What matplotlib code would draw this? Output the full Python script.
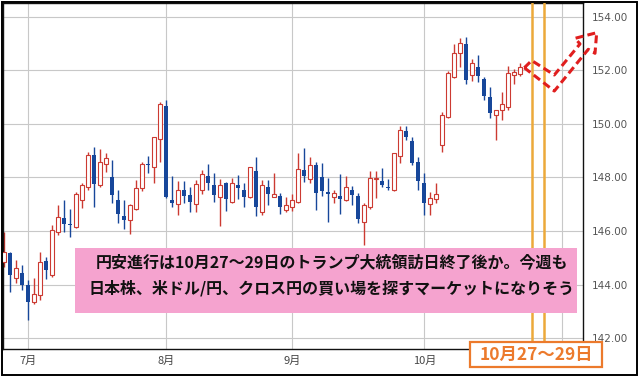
"""
usdjpy_daily.py
===============
USD/JPY daily candles (late June - Oct 2025) with the Trump visit window
(Oct 27-29) and a dashed forecast arrow.

Output: out.png (640x377)
"""

import matplotlib
matplotlib.use("Agg")
import matplotlib.pyplot as plt
from matplotlib.patches import Rectangle
import numpy as np
import pandas as pd

plt.rcParams["font.family"] = ["Noto Sans CJK JP", "DejaVu Sans"]

# ---- data ------------------------------------------------------------------
START = "2025-06-25"
AXIS_END = "2025-11-14"

OPEN = [
    144.85, 145.16, 144.23, 144.44,
    # Jul
    143.98, 143.35, 143.60, 144.89, 144.35, 145.98, 146.50, 146.26, 146.16,
    147.16, 147.66, 148.84, 147.72, 148.50, 148.00, 147.15, 146.55, 146.42,
    146.83, 147.62, 148.50, 148.40, 149.42,
    # Aug
    150.67, 147.15, 147.02, 147.52, 147.35, 147.02, 147.55, 148.05, 147.72,
    147.28, 147.78, 147.10, 147.72, 147.53, 147.26, 148.24, 146.72, 147.63,
    147.28, 147.31, 146.79,
    # Sep
    146.91, 147.10, 148.28, 147.93, 148.47, 148.03, 147.47, 147.28, 147.30,
    147.16, 147.55, 147.30, 146.35, 146.88, 147.93, 147.88, 147.65, 147.55,
    148.80, 149.73, 149.37, 148.59,
    # Oct
    147.78, 147.00, 147.18, 149.21, 150.25, 151.77, 152.64, 152.99, 151.83,
    152.11, 151.67, 151.02, 150.33, 150.52, 150.62, 151.83, 151.86,
]
HIGH = [
    145.97, 145.23, 144.91, 144.73,
    144.17, 144.23, 145.20, 145.04, 146.22, 146.97, 147.16, 146.84, 147.47,
    147.78, 148.97, 149.15, 149.05, 148.90, 148.65, 147.55, 147.17, 147.02,
    147.92, 148.58, 148.80, 149.52, 150.83,
    150.90, 148.05, 147.87, 147.87, 147.65, 147.92, 148.27, 148.50, 148.18,
    147.93, 147.84, 147.97, 148.10, 147.78, 148.40, 148.78, 147.91, 147.91,
    148.18, 147.41, 147.28,
    147.38, 148.90, 149.09, 148.78, 148.56, 148.55, 147.97, 147.55, 148.13,
    148.05, 147.68, 147.43, 147.03, 148.25, 148.25, 148.34, 147.93, 148.93,
    149.92, 149.92, 149.50, 148.77,
    148.15, 147.47, 147.78, 150.46, 151.99, 152.99, 153.20, 153.24, 152.41,
    152.58, 151.77, 151.39, 150.54, 151.20, 152.16, 152.04, 152.26,
]
LOW = [
    144.67, 143.73, 144.04, 143.79,
    142.67, 143.29, 143.42, 144.19, 144.29, 145.85, 145.98, 145.79, 146.13,
    146.85, 147.53, 146.91, 147.63, 148.20, 147.05, 146.30, 146.08, 145.87,
    146.77, 147.50, 148.15, 147.80, 148.58,
    147.22, 146.90, 146.58, 147.05, 146.71, 146.71, 147.37, 147.55, 147.10,
    146.19, 146.76, 147.03, 147.18, 146.88, 147.22, 146.56, 146.60, 146.97,
    147.26, 146.64, 146.72,
    146.76, 147.03, 147.84, 147.81, 146.79, 147.30, 146.35, 147.06, 146.63,
    147.13, 146.98, 146.28, 145.47, 146.81, 147.22, 147.63, 147.53, 147.50,
    148.55, 149.40, 148.46, 147.53,
    146.60, 146.60, 147.06, 148.96, 150.21, 151.70, 152.11, 151.49, 151.62,
    151.58, 150.89, 150.21, 149.40, 150.15, 150.52, 151.49, 151.79,
]
CLOSE = [
    145.23, 144.35, 144.63, 143.98,
    143.35, 143.64, 144.85, 144.54, 146.04, 146.51, 146.25, 146.22, 147.38,
    147.72, 148.84, 147.76, 148.59, 148.71, 147.33, 146.62, 146.42, 146.96,
    147.62, 148.50, 148.46, 149.50, 150.75,
    147.27, 147.05, 147.52, 147.30, 147.08, 147.75, 148.12, 147.80, 147.35,
    147.72, 147.18, 147.78, 147.62, 147.28, 148.38, 146.91, 147.72, 147.38,
    147.38, 146.91, 146.97,
    147.16, 148.31, 148.06, 148.47, 147.43, 147.50, 147.38, 147.43, 147.18,
    147.63, 147.34, 146.43, 146.97, 147.97, 147.97, 147.72, 147.60, 148.90,
    149.77, 149.50, 148.55, 147.88,
    147.03, 147.22, 147.40, 150.33, 151.89, 152.66, 153.04, 151.64, 152.26,
    151.79, 151.04, 150.40, 150.52, 150.74, 151.89, 151.95, 152.14,
]

MONTH_LABELS = ["7月", "8月", "9月", "10月", ""]
YTICKS = [142, 144, 146, 148, 150, 152, 154]
EVENT_DAYS = ["2025-10-27", "2025-10-29"]

NOTE_LINE1 = "円安進行は10月27～29日のトランプ大統領訪日終了後か。今週も"
NOTE_LINE2 = "日本株、米ドル/円、クロス円の買い場を探すマーケットになりそう"
EVENT_LABEL = "10月27～29日"

UP_COLOR   = "#cc3a32"
DOWN_COLOR = "#17479a"
EVENT_COLOR = "#eca93a"
ARROW_COLOR = "#e01e1e"
PINK  = "#f5a3cf"
ORANGE = "#ec7a2c"


def main():
    o, h, l, c = map(np.array, (OPEN, HIGH, LOW, CLOSE))
    days = pd.bdate_range(START, AXIS_END)
    x = np.arange(len(o))
    up = c >= o

    fig = plt.figure(figsize=(6.4, 3.77), dpi=100)
    ax = fig.add_axes([3 / 640, 1 - 349 / 377, 580 / 640, 346 / 377])

    # month-start gridlines / labels
    month_pos = [i for i in range(1, len(days)) if days[i].month != days[i - 1].month]
    ax.set_xticks(month_pos)
    ax.set_xticklabels(MONTH_LABELS[:len(month_pos)], fontsize=8, color="#444444")
    ax.set_yticks(YTICKS)
    ax.set_yticklabels([f"{v:.2f}" for v in YTICKS], fontsize=7.5,
                       color="#555555", family="DejaVu Sans")
    ax.yaxis.tick_right()
    ax.tick_params(length=0)
    ax.tick_params(axis="x", pad=5)
    ax.tick_params(axis="y", pad=6.5)
    ax.grid(True, color="#c8c8c8", linewidth=0.8)
    ax.set_axisbelow(True)
    for sp in ax.spines.values():
        sp.set_color("#111111")
        sp.set_linewidth(1.0)

    # candles
    ax.vlines(x[up], l[up], h[up], color=UP_COLOR, linewidth=1.0, zorder=2)
    ax.vlines(x[~up], l[~up], h[~up], color=DOWN_COLOR, linewidth=1.0, zorder=2)
    ax.bar(x[up], c[up] - o[up], 0.62, bottom=o[up], facecolor="white",
           edgecolor=UP_COLOR, linewidth=0.8, zorder=3)
    ax.bar(x[~up], c[~up] - o[~up], 0.72, bottom=o[~up], color=DOWN_COLOR,
           linewidth=0, zorder=3)

    # Trump visit window
    for d in EVENT_DAYS:
        ax.axvline(days.get_loc(pd.Timestamp(d)), color=EVENT_COLOR,
                   linewidth=1.8, zorder=4)

    # dashed forecast arrow (offsets from last candle, price)
    last = x[-1]
    arrow = [(0.67, 152.10), (1.9, 152.37), (5.67, 151.83), (9.95, 152.99),
             (9.12, 153.20), (12.73, 153.41), (12.45, 152.64), (11.33, 152.79),
             (5.67, 151.23), (0.67, 152.10)]
    ax.plot([last + dx for dx, _ in arrow], [p for _, p in arrow],
            color=ARROW_COLOR, linewidth=2.2, linestyle=(0, (2.6, 1.4)),
            clip_on=False, zorder=6, solid_joinstyle="miter")

    ax.set_xlim(-0.22, 96.45)
    ax.set_ylim(141.59, 154.52)

    # comment box
    fig.add_artist(Rectangle((75 / 640, 1 - 313 / 377), 502 / 640, 65 / 377,
                             transform=fig.transFigure, facecolor=PINK,
                             edgecolor="none", zorder=10))
    fig.text(332 / 640, 1 - 262 / 377, NOTE_LINE1, ha="center", va="center",
             fontsize=11.5, fontweight="bold", color="#111111", zorder=11)
    fig.text(331.5 / 640, 1 - 288 / 377, NOTE_LINE2, ha="center", va="center",
             fontsize=11.5, fontweight="bold", color="#111111", zorder=11)

    # event label
    fig.add_artist(Rectangle((470 / 640, 1 - 367 / 377), 132 / 640, 25 / 377,
                             transform=fig.transFigure, facecolor="white",
                             edgecolor=ORANGE, linewidth=1.6, zorder=10))
    fig.text(536 / 640, 1 - 355 / 377, EVENT_LABEL, ha="center", va="center",
             fontsize=12.5, fontweight="bold", color=ORANGE, zorder=11)

    # outer frame
    fig.add_artist(Rectangle((2 / 640, 2 / 377), 635 / 640, 373 / 377,
                             transform=fig.transFigure, fill=False,
                             edgecolor="black", linewidth=1.4, zorder=12))

    fig.savefig("out.png", dpi=100, facecolor="white")
    plt.close(fig)


if __name__ == "__main__":
    main()
